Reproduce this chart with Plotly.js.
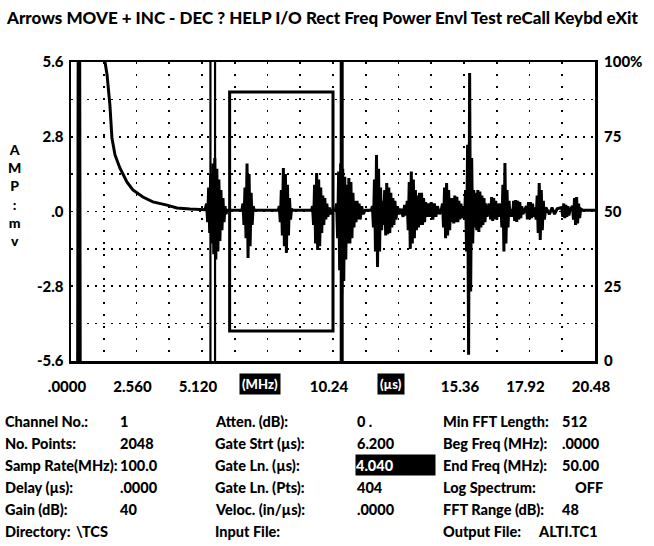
<!DOCTYPE html>
<html>
<head>
<meta charset="utf-8">
<script src="https://cdn.plot.ly/plotly-3.0.1.min.js"></script>
<style>html,body{margin:0;padding:0;background:#fff;}#chart{width:654px;height:546px;}</style>
</head>
<body>
<div id="chart"></div>
<script>
// ---------------- data ----------------
const menuText = "Arrows MOVE + INC - DEC ? HELP I/O Rect Freq Power Envl Test reCall Keybd eXit";
const yTitleLetters = ["A", "M", "P", ":", "m", "v"];

const xMajorTicksUs = [0, 2.56, 5.12, 7.68, 10.24, 12.8, 15.36, 17.92, 20.48];
const xTickLabels = [".0000", "2.560", "5.120", "", "10.24", "", "15.36", "17.92", "20.48"];
const xUnitBoxes = ["(MHz)", "(\u00b5s)"];
const yTicksMv = [-5.6, -2.8, 0, 2.8, 5.6];
const yTickLabels = ["-5.6", "-2.8", ".0", "2.8", "5.6"];
const pctTicks = [0, 25, 50, 75, 100];
const pctTickLabels = ["0", "25", "50", "75", "100%"];

// waveform (time in µs, amplitude in mV)
const bangSamples = [[0.26, -5.6], [0.28, 5.6], [0.34, 5.6], [0.36, -5.6]];
const decaySamples = [[1.33, 5.6], [1.41, 5.11], [1.52, 3.99], [1.60, 2.75], [1.72, 2.12], [1.91, 1.63],
  [2.19, 1.10], [2.42, 0.81], [2.81, 0.54], [3.20, 0.36], [3.75, 0.24], [4.14, 0.13], [4.65, 0.09], [5.24, 0.07]];
const echoSamples = [
 [5.30, 0.3], [5.34, -0.4], [5.38, 0.9], [5.42, -0.8], [5.46, 1.4], [5.50, -1.2], [5.54, 1.8], [5.58, -1.6], [5.62, 2.0], [5.66, -1.8], [5.70, 1.6], [5.74, -1.5], [5.78, 1.2], [5.82, -1.1], [5.86, 0.8], [5.90, -0.7], [5.94, 0.5], [5.98, -0.4], [6.02, 0.2], [6.06, -0.1], [6.10, 0.05],
 [6.68, 0.05], [6.72, 0.3], [6.76, -0.5], [6.80, 0.9], [6.84, -1.0], [6.88, 1.8], [6.92, -1.74], [6.96, 1.4], [7.00, -1.3], [7.04, 0.7], [7.08, -0.5], [7.12, 0.2], [7.16, 0.05],
 [8.10, 0.05], [8.14, 0.2], [8.18, -0.4], [8.22, 0.8], [8.26, -0.9], [8.30, 1.63], [8.34, -1.3], [8.38, 1.4], [8.42, -1.55], [8.46, 1.0], [8.50, -0.9], [8.54, 0.5], [8.58, -0.3], [8.62, 0.1], [8.66, 0.05],
 [9.40, 0.05], [9.44, 0.2], [9.48, -0.5], [9.52, 1.0], [9.56, -1.2], [9.60, 1.44], [9.64, -1.44], [9.68, 1.2], [9.72, -1.3], [9.76, 0.9], [9.80, -0.8], [9.84, 0.6], [9.88, -0.5], [9.92, 0.5], [9.96, -0.3], [10.00, 0.3], [10.04, -0.2], [10.10, 0.15], [10.16, -0.1], [10.22, 0.05],
 [10.34, 0.05], [10.38, 0.3], [10.42, -1.0], [10.46, 1.5], [10.50, -2.2], [10.54, 1.8], [10.58, -3.1], [10.62, 1.6], [10.66, -2.6], [10.70, 1.3], [10.74, -1.8], [10.78, 1.0], [10.82, -1.2], [10.86, 1.25], [10.90, -1.2], [10.94, 1.1], [10.98, -1.0], [11.02, 0.7], [11.06, -0.6], [11.10, 0.4], [11.14, -0.4], [11.18, 0.4], [11.22, -0.3], [11.26, 0.3], [11.30, -0.3], [11.36, 0.2], [11.42, -0.1], [11.50, 0.05],
 [11.74, 0.05], [11.78, 0.2], [11.82, -0.6], [11.86, 1.2], [11.90, -1.5], [11.94, 2.12], [11.98, -2.08], [12.02, 1.6], [12.06, -1.5], [12.10, 0.9], [12.14, -0.7], [12.18, 0.4],
 [12.22, -0.5], [12.26, 0.8], [12.30, -0.9], [12.34, 1.07], [12.38, -0.85], [12.42, 0.9], [12.46, -0.8], [12.50, 0.7], [12.54, -0.6], [12.58, 0.5], [12.62, -0.5], [12.66, 0.4], [12.70, -0.3], [12.76, 0.2], [12.82, -0.1], [12.90, 0.1], [12.98, -0.2], [13.04, 0.25], [13.10, -0.15],
 [13.14, 0.4], [13.18, -0.7], [13.22, 1.1], [13.26, -1.4], [13.30, 1.5], [13.34, -1.2], [13.38, 1.2], [13.42, -1.0], [13.46, 0.8], [13.50, -0.7], [13.54, 0.6],
 [13.58, -0.6], [13.62, 0.7], [13.66, -0.5], [13.70, 0.7], [13.74, -0.5], [13.78, 0.5], [13.82, -0.4], [13.86, 0.35], [13.90, -0.2],
 [13.96, 0.3], [14.02, -0.2], [14.08, 0.35], [14.14, -0.3], [14.20, 0.3], [14.26, -0.2], [14.32, 0.2], [14.40, -0.1], [14.48, 0.1],
 [14.52, 0.3], [14.56, -0.6], [14.60, 0.9], [14.64, -1.0], [14.68, 1.07], [14.72, -0.9], [14.76, 0.8], [14.80, -0.7], [14.84, 0.5], [14.88, -0.4],
 [14.92, 0.5], [14.96, -0.45], [15.00, 0.6], [15.04, -0.4], [15.08, 0.55], [15.12, -0.4], [15.16, 0.4], [15.20, -0.3], [15.24, 0.3], [15.28, -0.25], [15.32, 0.2], [15.38, -0.3],
 [15.42, 0.8], [15.46, -1.5], [15.50, 2.5], [15.54, -5.37], [15.58, 5.19], [15.62, -3.0], [15.66, 2.0], [15.70, -1.2], [15.74, 0.8],
 [15.78, -0.6], [15.82, 0.7], [15.86, -0.7], [15.90, 0.8], [15.94, -0.77], [15.98, 0.75], [16.02, -0.6], [16.06, 0.6], [16.10, -0.5], [16.14, 0.5], [16.18, -0.4], [16.22, 0.3], [16.26, -0.2], [16.32, 0.1],
 [16.36, 0.3], [16.40, -0.3], [16.44, 0.54], [16.48, -0.35], [16.52, 0.5], [16.56, -0.3], [16.60, 0.4], [16.64, -0.3], [16.68, 0.3], [16.72, -0.2],
 [16.80, 0.3], [16.84, -0.6], [16.88, 1.0], [16.92, -1.5], [16.96, 1.82], [17.00, -1.2], [17.04, 0.8], [17.08, -0.6], [17.12, 0.4], [17.16, -0.2],
 [17.22, 0.1], [17.26, -0.2], [17.30, 0.4], [17.34, -0.35], [17.38, 0.43], [17.42, -0.39], [17.46, 0.4], [17.50, -0.3], [17.54, 0.35], [17.58, -0.25], [17.62, 0.2], [17.66, -0.1],
 [17.80, 0.2], [17.84, -0.3], [17.88, 0.35], [17.92, -0.3], [17.96, 0.35], [18.00, -0.25], [18.04, 0.3], [18.08, -0.2], [18.12, 0.15],
 [18.18, -0.3], [18.22, 0.6], [18.26, -0.8], [18.30, 1.07], [18.34, -1.07], [18.38, 0.8], [18.42, -0.7], [18.46, 0.4], [18.50, -0.3], [18.56, 0.15],
 [18.70, -0.1], [18.80, 0.15], [18.90, -0.1], [19.00, 0.1],
 [19.18, 0.15], [19.22, -0.2], [19.26, 0.3], [19.30, -0.25], [19.34, 0.25], [19.38, -0.2], [19.42, 0.2], [19.46, -0.15], [19.50, 0.05],
 [19.60, 0.2], [19.64, -0.3], [19.68, 0.5], [19.72, -0.5], [19.76, 0.54], [19.80, -0.45], [19.84, 0.3], [19.88, -0.25], [19.92, 0.1],
 [20.00, 0.05], [20.48, 0.05]
];

const cursorsUs = [5.45, 5.63, 10.58];
const gateStartUs = 6.2;
const gateLengthUs = 4.04;
const gateLevelPct = 80;
const fullScaleMv = 5.6;

// info panel
const infoCol1Labels = ["Channel No.:", "No. Points:", "Samp Rate(MHz):", "Delay (\u00b5s):", "Gain (dB):", "Directory:"];
const infoCol1Values = ["1", "2048", "100.0", ".0000", "40", "\\TCS"];
const infoCol2Labels = ["Atten. (dB):", "Gate Strt (\u00b5s):", "Gate Ln. (\u00b5s):", "Gate Ln. (Pts):", "Veloc. (in/\u00b5s):", "Input File:"];
const infoCol2Values = ["0 .", gateStartUs.toFixed(3), gateLengthUs.toFixed(3), "404", ".0000", ""];
const infoCol3Labels = ["Min FFT Length:", "Beg Freq (MHz):", "End Freq (MHz):", "Log Spectrum:", "FFT Range (dB):", "Output File:"];
const infoCol3Values = ["512", ".0000", "50.00", "OFF", "48", "ALTI.TC1"];

// ---------------- drawing ----------------
const W = 654, H = 546;
const L = 71, R = 595, T = 62, B = 361;
const px = x => (x - L) / (R - L);
const py = y => (B - y) / (B - T);
const FONT = "Lato, Roboto, sans-serif";
const txt = (size, color) => ({family: FONT, size: size, color: color || "#000", weight: 900});

const wx = [], wy = [];
bangSamples.forEach(p => { wx.push(p[0]); wy.push(p[1]); });
wx.push(null); wy.push(null);
decaySamples.concat(echoSamples).forEach(p => { wx.push(p[0]); wy.push(p[1]); });

const xGrid = [], xGridText = [];
for (let i = 0; i <= 16; i++) {
  const v = +(i * 1.28).toFixed(2);
  xGrid.push(v);
  const k = xMajorTicksUs.indexOf(v);
  xGridText.push(k >= 0 ? xTickLabels[k] : "");
}
const yGrid = [], yGridText = [];
for (let i = -4; i <= 4; i++) {
  const v = +(i * 1.4).toFixed(1);
  yGrid.push(v);
  const k = yTicksMv.indexOf(v);
  yGridText.push(k >= 0 ? yTickLabels[k] : "");
}

const traces = [
  {x: wx, y: wy, type: "scatter", mode: "lines", line: {color: "#000", width: 3, simplify: false},
   hoverinfo: "skip", showlegend: false, connectgaps: false},
  {x: [0], y: [null], yaxis: "y2", type: "scatter", mode: "lines", hoverinfo: "skip", showlegend: false}
];

const shapes = [];
cursorsUs.forEach((c, i) => shapes.push({type: "line", xref: "x", yref: "paper", x0: c, x1: c, y0: 0, y1: 1,
  line: {color: "#000", width: i === 2 ? 4 : 2.2}}));
const gateHalf = fullScaleMv * gateLevelPct / 100;
shapes.push({type: "rect", xref: "x", yref: "y", x0: gateStartUs, x1: gateStartUs + gateLengthUs,
  y0: -gateHalf, y1: gateHalf, line: {color: "#000", width: 3}});

const ann = [];
ann.push({text: menuText, xref: "paper", yref: "paper", x: px(4), y: py(17), xanchor: "left", yanchor: "middle",
  showarrow: false, font: txt(17)});
ann.push({text: yTitleLetters.join("<br>"), xref: "paper", yref: "paper", x: px(14), y: py(195),
  xanchor: "center", yanchor: "middle", showarrow: false, font: txt(14)});
const unitPx = [260, 391];
xUnitBoxes.forEach((u, i) => ann.push({text: u, xref: "paper", yref: "paper", x: px(unitPx[i]), y: py(384),
  xanchor: "center", yanchor: "middle", showarrow: false, font: txt(13, "#fff"), bgcolor: "#000", borderpad: 2}));

const INFO = 14.5;
const rowY = [421, 443, 465, 487, 509, 531];
function addCol(labels, values, lx, vxs) {
  labels.forEach((lab, i) => {
    ann.push({text: lab, xref: "paper", yref: "paper", x: px(lx), y: py(rowY[i]), xanchor: "left", yanchor: "middle",
      showarrow: false, font: txt(INFO)});
    if (values[i] !== "") {
      ann.push({text: values[i], xref: "paper", yref: "paper", x: px(vxs[i]), y: py(rowY[i]), xanchor: "left",
        yanchor: "middle", showarrow: false, font: txt(INFO)});
    }
  });
}
addCol(infoCol1Labels, infoCol1Values, 3, [118, 118, 118, 118, 118, 74]);
addCol(infoCol2Labels, infoCol2Values.map((v, i) => i === 2 ? "" : v), 213, [355, 355, 355, 355, 355, 355]);
ann.push({text: infoCol2Values[2], xref: "paper", yref: "paper", x: px(355), y: py(rowY[2]), xanchor: "left",
  yanchor: "middle", showarrow: false, font: txt(INFO, "#fff"), bgcolor: "#000", width: 79, height: 20,
  align: "left", borderpad: 0});
addCol(infoCol3Labels, infoCol3Values, 441, [560, 560, 560, 573, 560, 536]);

const gridCommon = {gridcolor: "#000", gridwidth: 1.6, zeroline: false, ticks: "", showline: true,
  linecolor: "#000", linewidth: 2.5, mirror: true, fixedrange: true};

const layout = {
  width: W, height: H, autosize: false,
  margin: {l: L, r: W - R, t: T, b: H - B, pad: 0},
  paper_bgcolor: "#fff", plot_bgcolor: "#fff", showlegend: false,
  xaxis: Object.assign({}, gridCommon, {range: [0, 20.48], tickvals: xGrid, ticktext: xGridText,
    griddash: "2px,10px", tickfont: txt(15), ticklabelstandoff: 10, ticklabelshift: -4}),
  yaxis: Object.assign({}, gridCommon, {range: [-fullScaleMv, fullScaleMv], tickvals: yGrid, ticktext: yGridText,
    griddash: "2px,6px", tickfont: txt(15), ticklabelstandoff: 2}),
  yaxis2: {overlaying: "y", side: "right", range: [0, 100], tickvals: pctTicks, ticktext: pctTickLabels,
    showgrid: false, zeroline: false, ticks: "", showline: false, tickfont: txt(15), ticklabelstandoff: 8, fixedrange: true},
  shapes: shapes,
  annotations: ann,
  font: txt(15)
};

Plotly.newPlot("chart", traces, layout, {staticPlot: true, displayModeBar: false});
</script>
</body>
</html>
